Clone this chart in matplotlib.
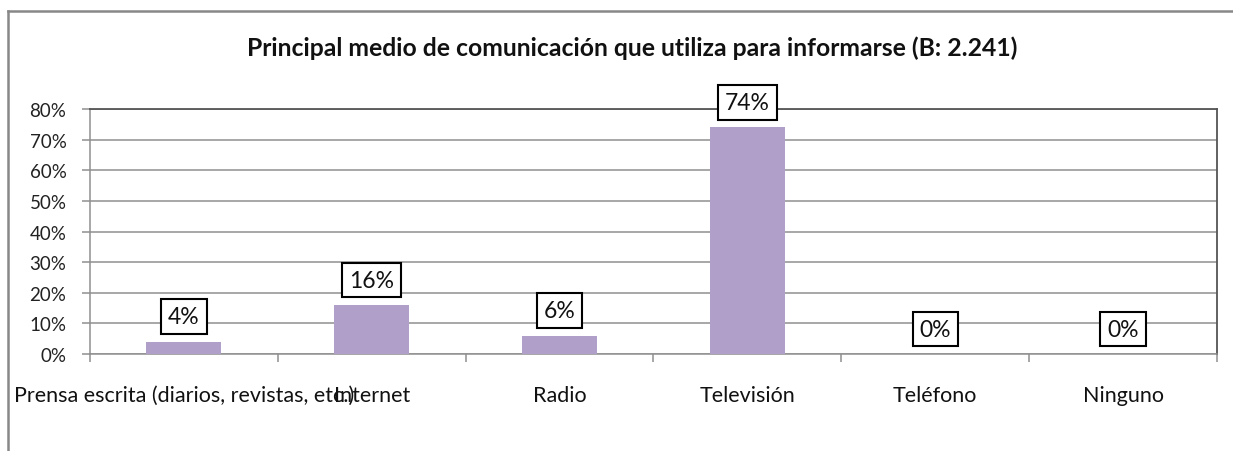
import numpy as np
import matplotlib
matplotlib.use("Agg")
import matplotlib.pyplot as plt
from matplotlib.lines import Line2D
from matplotlib.ticker import FixedLocator, PercentFormatter

plt.rcParams['font.family'] = ['Lato', 'DejaVu Sans']

title = "Principal medio de comunicación que utiliza para informarse (B: 2.241)"
categories = ["Prensa escrita (diarios, revistas, etc.)", "Internet", "Radio",
              "Televisión", "Teléfono", "Ninguno"]
shares = [0.04, 0.16, 0.06, 0.74, 0.00, 0.00]
y_ticks = [0.0, 0.1, 0.2, 0.3, 0.4, 0.5, 0.6, 0.7, 0.8]

bar_color = "#AF9FC9"
grid_color = "#8f8f8f"

fig = plt.figure(figsize=(12.33, 4.52), dpi=100)
ax = fig.add_axes([0.073, 0.2146, 0.914, 0.5420])

x = np.arange(len(categories))
ax.bar(x, shares, width=0.4, color=bar_color, zorder=3)

ax.set_xlim(-0.5, len(categories) - 0.5)
ax.set_ylim(0, 0.8)
ax.set_yticks(y_ticks)
ax.yaxis.set_major_formatter(PercentFormatter(1.0, decimals=0))
ax.grid(axis='y', color=grid_color, linewidth=1.1, zorder=0)

ax.set_xticks(x)
ax.set_xticklabels(categories, fontsize=15.5, color="#111111")
ax.xaxis.set_minor_locator(FixedLocator(np.arange(len(categories) + 1) - 0.5))
ax.tick_params(axis='x', which='major', length=0, pad=22)
ax.tick_params(axis='x', which='minor', length=6, width=1.1, color=grid_color,
               direction='out')
ax.tick_params(axis='y', length=6, width=1.1, color=grid_color, pad=11,
               labelsize=13.5, labelcolor="#222222")

for side in ('left', 'bottom'):
    ax.spines[side].set_color(grid_color)
    ax.spines[side].set_linewidth(1.1)
for side in ('top', 'right'):
    ax.spines[side].set_color("#555555")
    ax.spines[side].set_linewidth(1.3)

# value labels in framed boxes above each bar
for xi, v in zip(x, shares):
    ax.annotate(f"{v:.0%}", (xi, v), xytext=(0, 18), textcoords='offset points',
                ha='center', va='center', fontsize=16.5, color="#111111", zorder=5,
                bbox=dict(boxstyle='square,pad=0.3', fc='white', ec='black', lw=1.5))

fig.text(0.513, 1 - 48 / 452, title, ha='center', va='center',
         fontsize=17.8, fontweight='bold', color="#111111")

# outer chart frame (left and top edges)
fx0, fy0 = 8 / 1233, 1 - 12 / 452
fig.add_artist(Line2D([fx0, fx0], [0, fy0], color="#888888", lw=1.8,
                      transform=fig.transFigure))
fig.add_artist(Line2D([fx0, 1], [fy0, fy0], color="#888888", lw=1.8,
                      transform=fig.transFigure))

fig.savefig("out.png", dpi=100)
